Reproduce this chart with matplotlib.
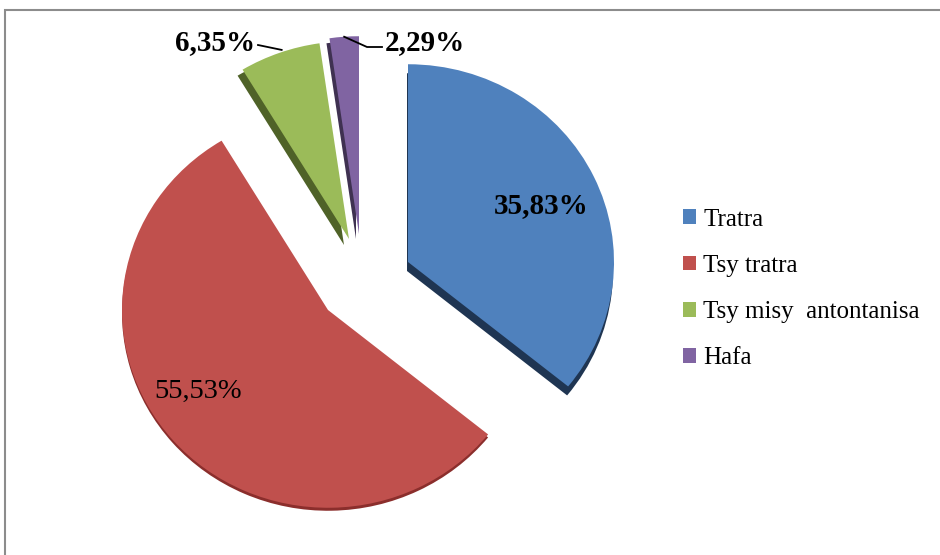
import numpy as np
import matplotlib.pyplot as plt
from matplotlib.patches import Rectangle

plt.rcParams['font.family'] = ['Liberation Serif', 'DejaVu Serif']

# data
labels = ["Tratra", "Tsy tratra", "Tsy misy  antontanisa", "Hafa"]
values = [35.83, 55.53, 6.35, 2.29]
pct_text = ["35,83%", "55,53%", "6,35%", "2,29%"]

# style (pixel units, y down)
colors = ["#4F81BD", "#C0504D", "#9BBB59", "#8064A2"]
side_colors = ["#1F3552", "#8B2E2C", "#4F6228", "#3F3151"]
explode_px = [(46, -17), (-34, 31), (-13, -40), (-3, -45)]
depth_px = [(-1, 9), (0, 3), (-5, 6), (-3, 5)]

W, H = 940, 555
K = 0.96          # vertical squash of the tilted 3d pie
cx, cy, R = 362, 279, 206


def yd(ypx):
	# pixel row -> data y
	return (H - ypx) / K


fig = plt.figure(figsize=(9.4, 5.55), dpi=100)
ax = fig.add_axes([0, 0, 1, 1])

# side walls (3d depth), drawn first
sides, _ = ax.pie(values, colors=side_colors, center=(cx, yd(cy)),
                  radius=R, startangle=90, counterclock=False, frame=True)
wedges, _ = ax.pie(values, colors=colors, center=(cx, yd(cy)),
                   radius=R, startangle=90, counterclock=False, frame=True)
for s, w, (ex, ey), (dx, dy) in zip(sides, wedges, explode_px, depth_px):
	w.set_center((cx + ex, yd(cy + ey)))
	s.set_center((cx + ex + dx, yd(cy + ey + dy)))

ax.set_xlim(0, W)
ax.set_ylim(0, H / K)
ax.set_aspect('auto')
ax.axis('off')

# labels inside
ax.text(541, yd(206), pct_text[0], ha='center', va='center', fontsize=21, fontweight='bold')
ax.text(198, yd(391), pct_text[1], ha='center', va='center', fontsize=20.5)

# labels outside with leader lines
def arc_mid(w):
	t = np.deg2rad((w.theta1 + w.theta2) / 2)
	return w.center[0] + w.r * np.cos(t), w.center[1] + w.r * np.sin(t)

gx, gy = arc_mid(wedges[2])
ax.plot([258, gx + 2], [yd(45), gy + 3], color='black', lw=1.3)
ax.text(255, yd(43), pct_text[2], ha='right', va='center', fontsize=21, fontweight='bold')

px, py = arc_mid(wedges[3])
ax.plot([px, 367, 382], [py, yd(47), yd(47)], color='black', lw=1.3)
ax.text(385, yd(43), pct_text[3], ha='left', va='center', fontsize=21, fontweight='bold')

ax.legend(wedges, labels, loc='center left', bbox_to_anchor=(670 / W, 1 - 289 / H),
          frameon=False, prop={'family': ['Liberation Serif', 'DejaVu Serif'], 'size': 18},
          handlelength=0.53, handleheight=0.53,
          labelspacing=0.97, handletextpad=0.3, borderpad=0)

# outer frame
ax.add_patch(Rectangle((4.5, -20), 1000, yd(10) + 20, fill=False,
                       edgecolor='#8c8c8c', lw=1.5, clip_on=False))

fig.savefig("out.png", dpi=100)
